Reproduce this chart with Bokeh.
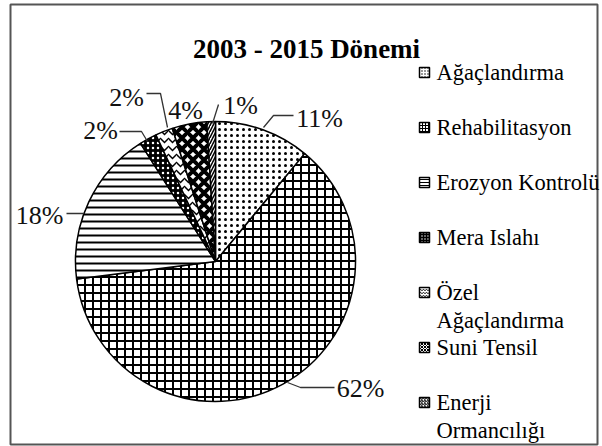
import math
from bokeh.plotting import figure
from bokeh.models import Range1d, ColumnDataSource
from bokeh.core.properties import value
from bokeh.embed import file_html
from bokeh.resources import INLINE

# ---------------- data ----------------
title_text = "2003 - 2015 Dönemi"
categories = ["Ağaçlandırma", "Rehabilitasyon", "Erozyon Kontrolü", "Mera Islahı",
              "Özel Ağaçlandırma", "Suni Tensil", "Enerji Ormancılığı"]
legend_lines = [["Ağaçlandırma"], ["Rehabilitasyon"], ["Erozyon Kontrolü"], ["Mera Islahı"],
                ["Özel", "Ağaçlandırma"], ["Suni Tensil"], ["Enerji", "Ormancılığı"]]
shares = [11, 62, 18, 2, 2, 4, 1]

# ---------------- styles ----------------
fill_colors = ["white", "white", "white", "black", "white", "white", "white"]
hatch_patterns = ["dot", "cross", "horizontal_line", "dot", "horizontal_wave",
                  "diagonal_cross", "right_diagonal_line"]
hatch_colors = ["black", "black", "black", "white", "black", "black", "black"]
hatch_scales = [6, 8, 7, 5, 8, 11, 6]
hatch_weights = [1.5, 2, 2, 1.5, 1.5, 4, 1.5]

# ---------------- layout (page pixel coordinates) ----------------
PAGE_W, PAGE_H = 602, 446
def Y(py):
    return PAGE_H - py

CX, CY, R = 215, 261, 140
# label anchor (center x, baseline y) per slice
label_pos = [(319, 118), (360, 388), (39, 215), (100, 130), (126, 97), (185, 110), (240, 105)]
leaders = [
    [(263, 127), (273, 115), (293, 115)],
    [(287, 382), (300, 387), (334, 387)],
    [(83, 213), (66, 213)],
    [(147, 141), (141, 131), (119, 131)],
    [(167, 127), (160, 93), (146, 93)],
    None,
    [(212, 123), (218, 104)],
]
legend_x_icon, legend_x_text = 424, 436
legend_top, legend_step, legend_line_h = 72, 55, 28

p = figure(width=PAGE_W, height=PAGE_H, x_range=Range1d(0, PAGE_W), y_range=Range1d(0, PAGE_H),
           output_backend="svg", toolbar_location=None, min_border=0)
p.axis.visible = False
p.grid.visible = False
p.outline_line_color = None
p.background_fill_color = "white"

# frame
p.quad(left=[10], right=[597], top=[Y(4)], bottom=[Y(444)], fill_color=None,
       line_color="#555555", line_width=2)

# pie
total = float(sum(shares))
starts, ends = [], []
cum = 0.0
for v in shares:
    starts.append(math.pi / 2 - 2 * math.pi * cum / total)
    cum += v
    ends.append(math.pi / 2 - 2 * math.pi * cum / total)

src = ColumnDataSource(dict(
    x=[CX] * len(shares), y=[Y(CY)] * len(shares), start=starts, end=ends,
    fill=fill_colors, hp=hatch_patterns, hc=hatch_colors, hs=hatch_scales, hw=hatch_weights,
    name=categories,
))
p.wedge(x="x", y="y", radius=R, start_angle="start", end_angle="end", direction="clock",
        source=src, fill_color="fill", hatch_pattern="hp", hatch_color="hc",
        hatch_scale="hs", hatch_weight="hw", line_color="black", line_width=1.5)

# leader lines
xs, ys = [], []
for ld in leaders:
    if ld is None:
        continue
    xs.append([pt[0] for pt in ld])
    ys.append([Y(pt[1]) for pt in ld])
p.multi_line(xs=xs, ys=ys, line_color="#333333", line_width=1.3)

# percentage labels
p.text(x=[lp[0] for lp in label_pos], y=[Y(lp[1]) for lp in label_pos],
       text=[f"{v}%" for v in shares], text_font=value("Liberation Serif"),
       text_font_size=value("26px"), text_align="center", text_baseline="alphabetic",
       text_color="#111111")

# title
p.text(x=[306], y=[Y(48)], text=[title_text], text_font=value("Liberation Serif"),
       text_font_size=value("27px"), text_font_style="bold", text_align="center",
       text_baseline="alphabetic", text_color="black")

# legend
icon_y = [Y(legend_top + i * legend_step) for i in range(len(categories))]
lsrc = ColumnDataSource(dict(
    x=[legend_x_icon] * len(categories), y=icon_y,
    fill=fill_colors, hp=hatch_patterns, hc=hatch_colors,
))
p.rect(x="x", y="y", width=10, height=10, source=lsrc, fill_color="fill",
       hatch_pattern="hp", hatch_color="hc", hatch_scale=3, hatch_weight=1,
       line_color="black", line_width=1.5)

tx, ty, tt = [], [], []
for i, lines in enumerate(legend_lines):
    for j, ln in enumerate(lines):
        tx.append(legend_x_text)
        ty.append(Y(legend_top + i * legend_step + j * legend_line_h))
        tt.append(ln)
p.text(x=tx, y=ty, text=tt, text_font=value("Liberation Serif"),
       text_font_size=value("22.5px"), text_align="left", text_baseline="middle",
       text_color="black")

open("out.html", "w").write(file_html(p, INLINE))
